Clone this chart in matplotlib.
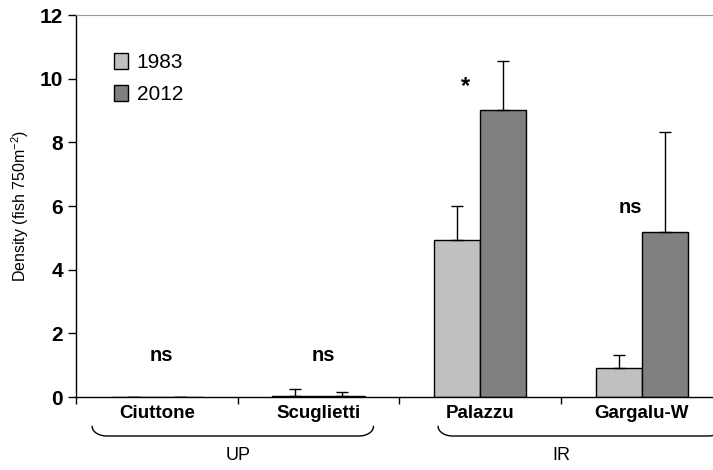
import numpy as np
import matplotlib.pyplot as plt
from matplotlib.patches import Patch

sites = ['Ciuttone', 'Scuglietti', 'Palazzu', 'Gargalu-W']
years = ['1983', '2012']
dens_1983 = [0.0, 0.03, 4.95, 0.91]
dens_2012 = [0.0, 0.03, 9.02, 5.18]
err_1983 = [0.0, 0.22, 1.05, 0.41]
err_2012 = [0.0, 0.12, 1.53, 3.14]
signif = ['ns', 'ns', '*', 'ns']
signif_y = [1.0, 1.0, 9.4, 5.65]
zones = ['UP', 'IR']

plt.rcParams['font.family'] = ['Liberation Sans', 'DejaVu Sans']

fig = plt.figure(figsize=(7.13, 4.70), dpi=100)
ax = fig.add_axes([0.1066, 0.155, 0.8934, 0.813])

x = np.arange(len(sites))
w = 0.285
c1, c2 = '#c0c0c0', '#808080'
ax.bar(x - w / 2, dens_1983, w, color=c1, edgecolor='black', lw=1,
       yerr=[np.zeros(4), err_1983], capsize=4,
       error_kw=dict(lw=1, capthick=1, ecolor='black'))
ax.bar(x + w / 2, dens_2012, w, color=c2, edgecolor='black', lw=1,
       yerr=[np.zeros(4), err_2012], capsize=4,
       error_kw=dict(lw=1, capthick=1, ecolor='black'))

for i, s in enumerate(signif):
    fs = 17 if s == '*' else 14.5
    xo = -0.09 if s == '*' else (-0.07 if i == 3 else 0.03)
    ax.text(i + xo, signif_y[i], s, ha='center', va='bottom',
            fontsize=fs, fontweight='bold')

ax.set_xlim(-0.5, 3.44)
ax.set_ylim(0, 12)
ax.set_yticks(range(0, 13, 2))
ax.tick_params(axis='y', labelsize=15, length=6, width=1, direction='out')
for lab in ax.get_yticklabels():
    lab.set_fontweight('bold')
ax.set_xticks([-0.5, 0.5, 1.5, 2.5])
ax.set_xticklabels([])
ax.tick_params(axis='x', length=5, width=1, direction='out')
ax.set_ylabel('Density (fish 750m$^{\\mathregular{-2}}$)', fontsize=11.5,
              labelpad=6)

ax.spines['right'].set_visible(False)
ax.spines['top'].set_color('#999999')
ax.spines['left'].set_linewidth(1)
ax.spines['bottom'].set_linewidth(1)

for i, s in enumerate(sites):
    ax.text(i, -0.5, s, ha='center', va='center', fontsize=13.5,
            fontweight='bold', clip_on=False)


def brace(x0, x1, ytop, ybot, dx):
    t = np.linspace(0, np.pi / 2, 20)
    left_x = x0 + dx * (1 - np.cos(t))
    left_y = ytop - (ytop - ybot) * np.sin(t)
    right_x = x1 - dx * (1 - np.cos(t[::-1]))
    right_y = ytop - (ytop - ybot) * np.sin(t[::-1])
    xs = np.concatenate([left_x, right_x])
    ys = np.concatenate([left_y, right_y])
    ax.plot(xs, ys, color='black', lw=1, clip_on=False)


brace(-0.40, 1.34, -0.92, -1.22, 0.09)
brace(1.74, 3.50, -0.92, -1.22, 0.09)
ax.text(0.5, -1.82, zones[0], ha='center', va='center', fontsize=13)
ax.text(2.5, -1.82, zones[1], ha='center', va='center', fontsize=13)

handles = [Patch(facecolor=c1, edgecolor='black'),
           Patch(facecolor=c2, edgecolor='black')]
ax.legend(handles, years, loc='upper left', bbox_to_anchor=(0.03, 0.95),
          frameon=False, fontsize=15, handlelength=0.7, handleheight=0.8,
          handletextpad=0.4, labelspacing=0.6)

fig.savefig('out.png', dpi=100)
